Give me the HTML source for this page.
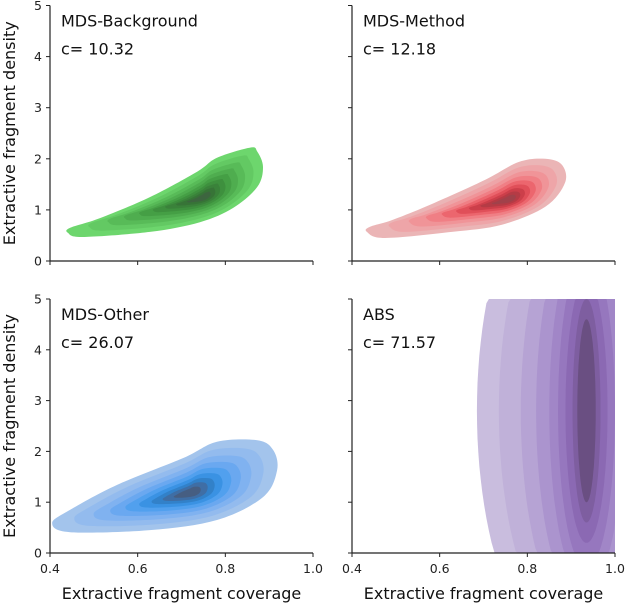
<!DOCTYPE html>
<html><head><meta charset="utf-8"><style>
html,body{margin:0;background:#fff;overflow:hidden;width:628px;height:608px}
svg{display:block;font-family:"DejaVu Sans","Liberation Sans",sans-serif}
</style></head><body>
<svg id="fig" width="628" height="608" viewBox="0 0 628 608"></svg>
<script>
// ---- data ----
const xTicks = [0.4, 0.6, 0.8, 1.0];
const xTickLabels = ["0.4", "0.6", "0.8", "1.0"];
const yTicks = [0, 1, 2, 3, 4, 5];
const yTickLabels = ["0", "1", "2", "3", "4", "5"];
const panelTitles = ["MDS-Background", "MDS-Method", "MDS-Other", "ABS"];
const panelCValues = ["10.32", "12.18", "26.07", "71.57"];
const greenOutline = [[0.441,0.55],[0.475,0.47],[0.628,0.57],[0.742,0.76],[0.818,1.04],[0.873,1.45],[0.886,1.84],[0.873,2.14],[0.857,2.22],[0.781,2.02],[0.736,1.75],[0.628,1.25],[0.514,0.84],[0.446,0.65]];
const greenPeak = [0.75, 1.24];
const redOutline = [[0.434,0.57],[0.475,0.45],[0.628,0.57],[0.742,0.71],[0.841,1.06],[0.886,1.53],[0.879,1.88],[0.841,2.0],[0.781,1.94],[0.704,1.59],[0.589,1.14],[0.491,0.80],[0.441,0.67]];
const redPeak = [0.758, 1.2];
const blueOutline = [[0.405,0.59],[0.446,0.41],[0.628,0.45],[0.781,0.65],[0.886,1.10],[0.918,1.63],[0.909,2.03],[0.873,2.22],[0.781,2.19],[0.704,1.87],[0.553,1.34],[0.446,0.85]];
const bluePeak = [0.72, 1.18];
const levelScale = [1, 0.84, 0.7, 0.58, 0.47, 0.37, 0.28, 0.2, 0.12];
const purpleCenter = [0.935, 2.8];
const purpleRx = [0.25, 0.2, 0.15, 0.115, 0.085, 0.065, 0.048, 0.032, 0.021];
const purpleRy = [5.2, 4.7, 4.3, 3.9, 3.5, 3.1, 2.6, 2.2, 1.8];
const greenColors = ["#6dd66d","#63c963","#58bb58","#4fad4f","#459f45","#3e903e","#3a823a","#377437","#3d653f"];
const redColors = ["#ebb5b6","#eea5a8","#f09498","#f07f85","#ec666e","#e04f59","#cc3f4a","#b53b45","#a1414a"];
const blueColors = ["#a3c4ec","#93bbee","#80b2f0","#6aa8f0","#51a0ee","#3a92e3","#3281c9","#3f6ea5","#465e82"];
const purpleColors = ["#c9bdde","#c0b1d9","#b6a3d4","#ab94ce","#a186c7","#9677be","#8b69b3","#7e5ea0","#6a4f82"];

const NS = "http://www.w3.org/2000/svg";
const svg = document.getElementById("fig");
const panels = [
  {x0:50,x1:313,y0:5.5,y1:261},
  {x0:352,x1:615,y0:5.5,y1:261},
  {x0:50,x1:313,y0:299,y1:553},
  {x0:352,x1:615,y0:299,y1:553}
];
function mk(tag, attrs, parent){const e=document.createElementNS(NS,tag);for(const k in attrs)e.setAttribute(k,attrs[k]);(parent||svg).appendChild(e);return e;}
function sx(p,v){return p.x0+(v-0.4)/0.6*(p.x1-p.x0);}
function sy(p,v){return p.y1-(v/5)*(p.y1-p.y0);}
function smoothPath(pts){
  const n=pts.length;let d="M"+pts[0][0]+","+pts[0][1];
  for(let i=0;i<n;i++){
    const p0=pts[(i-1+n)%n],p1=pts[i],p2=pts[(i+1)%n],p3=pts[(i+2)%n];
    const c1=[p1[0]+(p2[0]-p0[0])/6,p1[1]+(p2[1]-p0[1])/6];
    const c2=[p2[0]-(p3[0]-p1[0])/6,p2[1]-(p3[1]-p1[1])/6];
    d+=" C"+c1[0].toFixed(1)+","+c1[1].toFixed(1)+" "+c2[0].toFixed(1)+","+c2[1].toFixed(1)+" "+p2[0].toFixed(1)+","+p2[1].toFixed(1);
  }
  return d+"Z";
}
function drawKDE(p, g, outline, peak, colors){
  levelScale.forEach((f,i)=>{
    const pts=outline.map(q=>[sx(p,peak[0]+(q[0]-peak[0])*f), sy(p,peak[1]+(q[1]-peak[1])*f)]);
    const path=mk("path",{d:smoothPath(pts),fill:colors[i]},g);
    
    
  });
}
function drawEllipses(p,g){
  purpleRx.forEach((rx,i)=>{
    const ry=purpleRy[i];let d="";
    for(let a=0;a<=360;a+=3){
      const t=a*Math.PI/180;
      const cov=Math.min(1.0,purpleCenter[0]+rx*Math.cos(t));
      const den=Math.max(0,Math.min(5,purpleCenter[1]+ry*Math.sin(t)));
      d+=(a===0?"M":"L")+sx(p,cov).toFixed(1)+","+sy(p,den).toFixed(1);
    }
    const e=mk("path",{d:d+"Z",fill:purpleColors[i]},g);
    
    
  });
}
const defs=mk("defs",{});
panels.forEach((p,k)=>{
  const cp=mk("clipPath",{id:"clip"+k},defs);
  mk("rect",{x:p.x0,y:p.y0,width:p.x1-p.x0,height:p.y1-p.y0},cp);
  const g=mk("g",{"clip-path":"url(#clip"+k+")"});
  
  
  if(k===0)drawKDE(p,g,greenOutline,greenPeak,greenColors);
  if(k===1)drawKDE(p,g,redOutline,redPeak,redColors);
  if(k===2)drawKDE(p,g,blueOutline,bluePeak,blueColors);
  if(k===3)drawEllipses(p,g);
  const ax=mk("path",{d:"M"+p.x0+","+p.y0+" V"+p.y1+" H"+p.x1,fill:"none",stroke:"#222","stroke-width":1.2});
  
  
  xTicks.forEach((t,i)=>{
    const x=sx(p,t);
    const tk=mk("line",{x1:x,x2:x,y1:p.y1,y2:p.y1+4,stroke:"#222","stroke-width":1});
    
    
    if(k>=2){
      const tl=mk("text",{x:x,y:p.y1+20,"text-anchor":"middle","font-size":12.5,fill:"#222"});
      tl.textContent=xTickLabels[i];
      
      
    }
  });
  yTicks.forEach((t,i)=>{
    const y=sy(p,t);
    const tk=mk("line",{x1:p.x0-4,x2:p.x0,y1:y,y2:y,stroke:"#222","stroke-width":1});
    
    
    if(k%2===0){
      const tl=mk("text",{x:p.x0-8,y:y+4.5,"text-anchor":"end","font-size":12.5,fill:"#222"});
      tl.textContent=yTickLabels[i];
      
      
    }
  });
  const t1=mk("text",{x:p.x0+11,y:p.y0+21,"font-size":16,fill:"#111"});
  t1.textContent=panelTitles[k];
  
  
  const t2=mk("text",{x:p.x0+11,y:p.y0+49,"font-size":16,fill:"#111"});
  t2.textContent="c= "+panelCValues[k];
  
  
  if(k>=2){
    const xl=mk("text",{x:(p.x0+p.x1)/2,y:599,"text-anchor":"middle","font-size":16,fill:"#111"});
    xl.textContent="Extractive fragment coverage";
    
    
  }
  if(k%2===0){
    const cy=(p.y0+p.y1)/2;
    const yl=mk("text",{x:0,y:0,"text-anchor":"middle","font-size":16,fill:"#111",transform:"translate(15,"+cy+") rotate(-90)"});
    yl.textContent="Extractive fragment density";
    
    
  }
});
</script>
</body></html>
